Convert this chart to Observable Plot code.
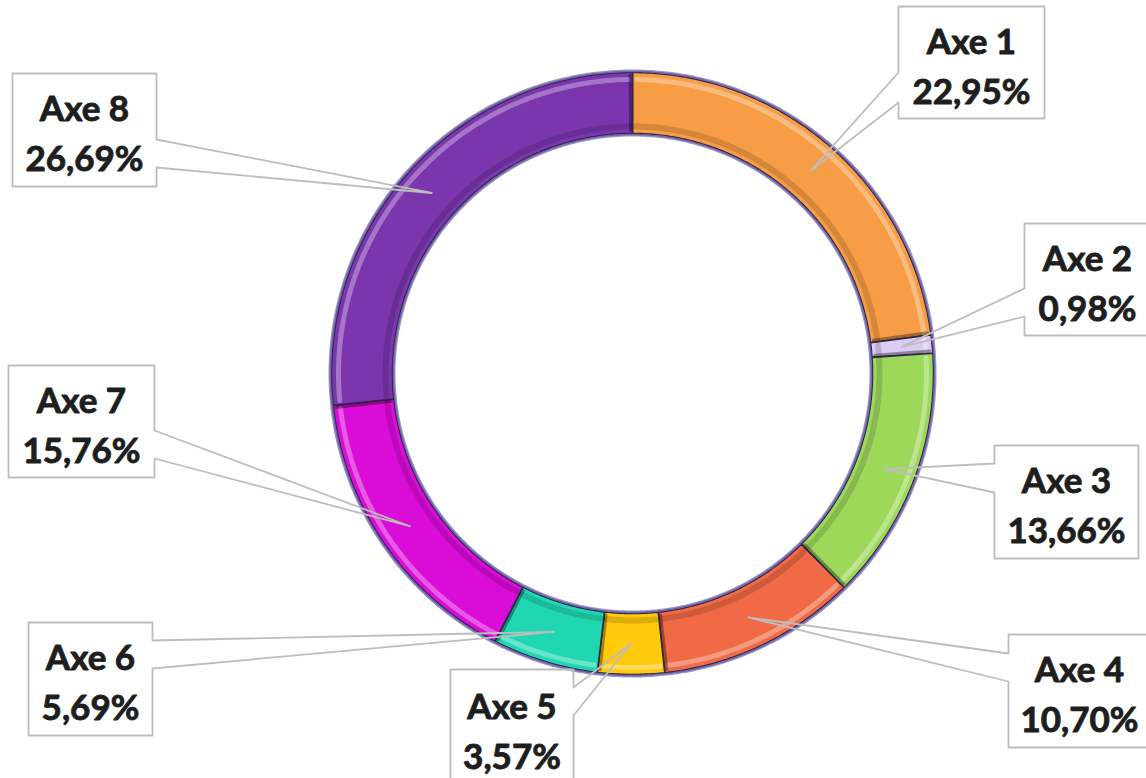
<!DOCTYPE html>
<html>
<head>
<meta charset="utf-8">
<script src="https://cdn.jsdelivr.net/npm/d3@7"></script>
<script src="https://cdn.jsdelivr.net/npm/@observablehq/plot@0.6"></script>
<style>
  html, body { margin: 0; padding: 0; background: #ffffff; }
  #chart svg { display: block; }
</style>
</head>
<body>
<div id="chart"></div>
<script>
// ---- Data ----
const categories = ["Axe 1", "Axe 2", "Axe 3", "Axe 4", "Axe 5", "Axe 6", "Axe 7", "Axe 8"];
const values = [22.95, 0.98, 13.66, 10.70, 3.57, 5.69, 15.76, 26.69];
const colors = ["#F79D45", "#DCCBF2", "#9ED85B", "#EF6A45", "#FFC90C", "#1FD8B2", "#DA0CD8", "#7B36AE"];

// ---- Layout (pixels) ----
const W = 1146, H = 778;
const cx = 632, cy = 373, R = 301, r = 240, rTip = 270;
// label boxes: [x0, y0, x1, y1], pointer side, attach y's on that side
const boxes = [
  {box: [898, 6, 1044, 118], side: "left", a: [72, 102]},
  {box: [1024, 223, 1150, 335], side: "left", a: [288, 316]},
  {box: [994, 445, 1138, 558], side: "left", a: [463, 492]},
  {box: [1008, 634, 1150, 747], side: "left", a: [653, 681]},
  {box: [450, 669, 573, 785], side: "right", a: [687, 715]},
  {box: [28, 622, 152, 735], side: "right", a: [640, 668]},
  {box: [8, 365, 154, 477], side: "right", a: [430, 458]},
  {box: [12, 73, 156, 186], side: "right", a: [139, 167]}
];

const total = d3.sum(values);
const pt = (ang, rad) => [cx + rad * Math.sin(ang), cy - rad * Math.cos(ang)];
let acc = 0;
const slices = categories.map((c, i) => {
  const a0 = acc / total * 2 * Math.PI;
  acc += values[i];
  const a1 = acc / total * 2 * Math.PI;
  return {cat: c, a0, a1, mid: (a0 + a1) / 2, value: values[i]};
});

function arcPts(a0, a1, rad) {
  const n = Math.max(2, Math.ceil((a1 - a0) / (Math.PI / 360)));
  return d3.range(n + 1).map(k => pt(a0 + (a1 - a0) * k / n, rad));
}

// slice polygons
const sliceRows = [];
slices.forEach(s => {
  const outer = arcPts(s.a0, s.a1, R);
  const inner = arcPts(s.a0, s.a1, r).reverse();
  const poly = outer.concat(inner);
  poly.push(poly[0]);
  poly.forEach(([x, y], k) => sliceRows.push({cat: s.cat, x, y, k}));
});

// bevel highlight / shade arcs per slice
const hiRows = [], shRows = [], edgeRows = [];
slices.forEach(s => {
  const pad = 0.014;
  arcPts(s.a0 + pad, s.a1 - pad, R - 7).forEach(([x, y]) => hiRows.push({cat: s.cat, x, y}));
  arcPts(s.a0 + pad, s.a1 - pad, r + 7).forEach(([x, y]) => shRows.push({cat: s.cat, x, y}));
  // radial edge shading at end of slice
  [pt(s.a1 - 0.008, R - 3), pt(s.a1 - 0.008, r + 3)].forEach(([x, y]) => edgeRows.push({cat: s.cat, x, y}));
});

// ring outlines
const outerRing = arcPts(0, 2 * Math.PI, R + 1).map(([x, y]) => ({x, y}));
const innerRing = arcPts(0, 2 * Math.PI, r - 1).map(([x, y]) => ({x, y}));

// callouts
const calloutRows = [];
const labelRows = [];
slices.forEach((s, i) => {
  const b = boxes[i];
  const [x0, y0, x1, y1] = b.box;
  const tip = pt(s.mid, rTip);
  let path;
  if (b.side === "left") {
    path = [[x0, b.a[0]], [x0, y0], [x1, y0], [x1, y1], [x0, y1], [x0, b.a[1]], tip, [x0, b.a[0]]];
  } else {
    path = [[x1, b.a[1]], [x1, y1], [x0, y1], [x0, y0], [x1, y0], [x1, b.a[0]], tip, [x1, b.a[1]]];
  }
  path.forEach(([x, y], k) => calloutRows.push({cat: s.cat, x, y, k}));
  labelRows.push({
    cat: s.cat,
    x: (x0 + x1) / 2,
    y: (y0 + y1) / 2,
    text: s.cat + "\n" + s.value.toFixed(2).replace(".", ",") + "%"
  });
});

const plot = Plot.plot({
  width: W,
  height: H,
  margin: 0,
  x: {domain: [0, W], range: [0, W], axis: null},
  y: {domain: [0, H], range: [0, H], axis: null},
  color: {domain: categories, range: colors},
  style: {background: "#ffffff"},
  marks: [
    // soft outer glow of ring
    Plot.line(outerRing, {x: "x", y: "y", stroke: "#9C93C9", strokeWidth: 4}),
    Plot.line(innerRing, {x: "x", y: "y", stroke: "#9C93C9", strokeWidth: 4}),
    // slices
    Plot.line(sliceRows, {x: "x", y: "y", z: "cat", fill: "cat", stroke: "#2E2748", strokeWidth: 1.6, strokeLinejoin: "round"}),
    // bevel effects
    Plot.line(hiRows, {x: "x", y: "y", z: "cat", stroke: "#ffffff", strokeOpacity: 0.32, strokeWidth: 5}),
    Plot.line(shRows, {x: "x", y: "y", z: "cat", stroke: "#000000", strokeOpacity: 0.14, strokeWidth: 6}),
    Plot.line(edgeRows, {x: "x", y: "y", z: "cat", stroke: "#000000", strokeOpacity: 0.35, strokeWidth: 3}),
    // ring outline
    Plot.line(outerRing, {x: "x", y: "y", stroke: "#6F63A6", strokeWidth: 1.5}),
    Plot.line(innerRing, {x: "x", y: "y", stroke: "#6F63A6", strokeWidth: 1.5}),
    // callouts
    Plot.line(calloutRows, {x: "x", y: "y", z: "cat", stroke: "#BDBDBD", strokeWidth: 1.8, fill: "none", curve: "linear-closed"}),
    Plot.text(labelRows, {
      x: "x", y: "y", text: "text",
      fontSize: 35, fontWeight: "bold", fontFamily: "Lato, 'Open Sans', sans-serif",
      fill: "#1E1E1E", stroke: "#1E1E1E", strokeWidth: 0.9,
      lineHeight: 1.43, textAnchor: "middle"
    })
  ]
});

document.getElementById("chart").appendChild(plot);
</script>
</body>
</html>
